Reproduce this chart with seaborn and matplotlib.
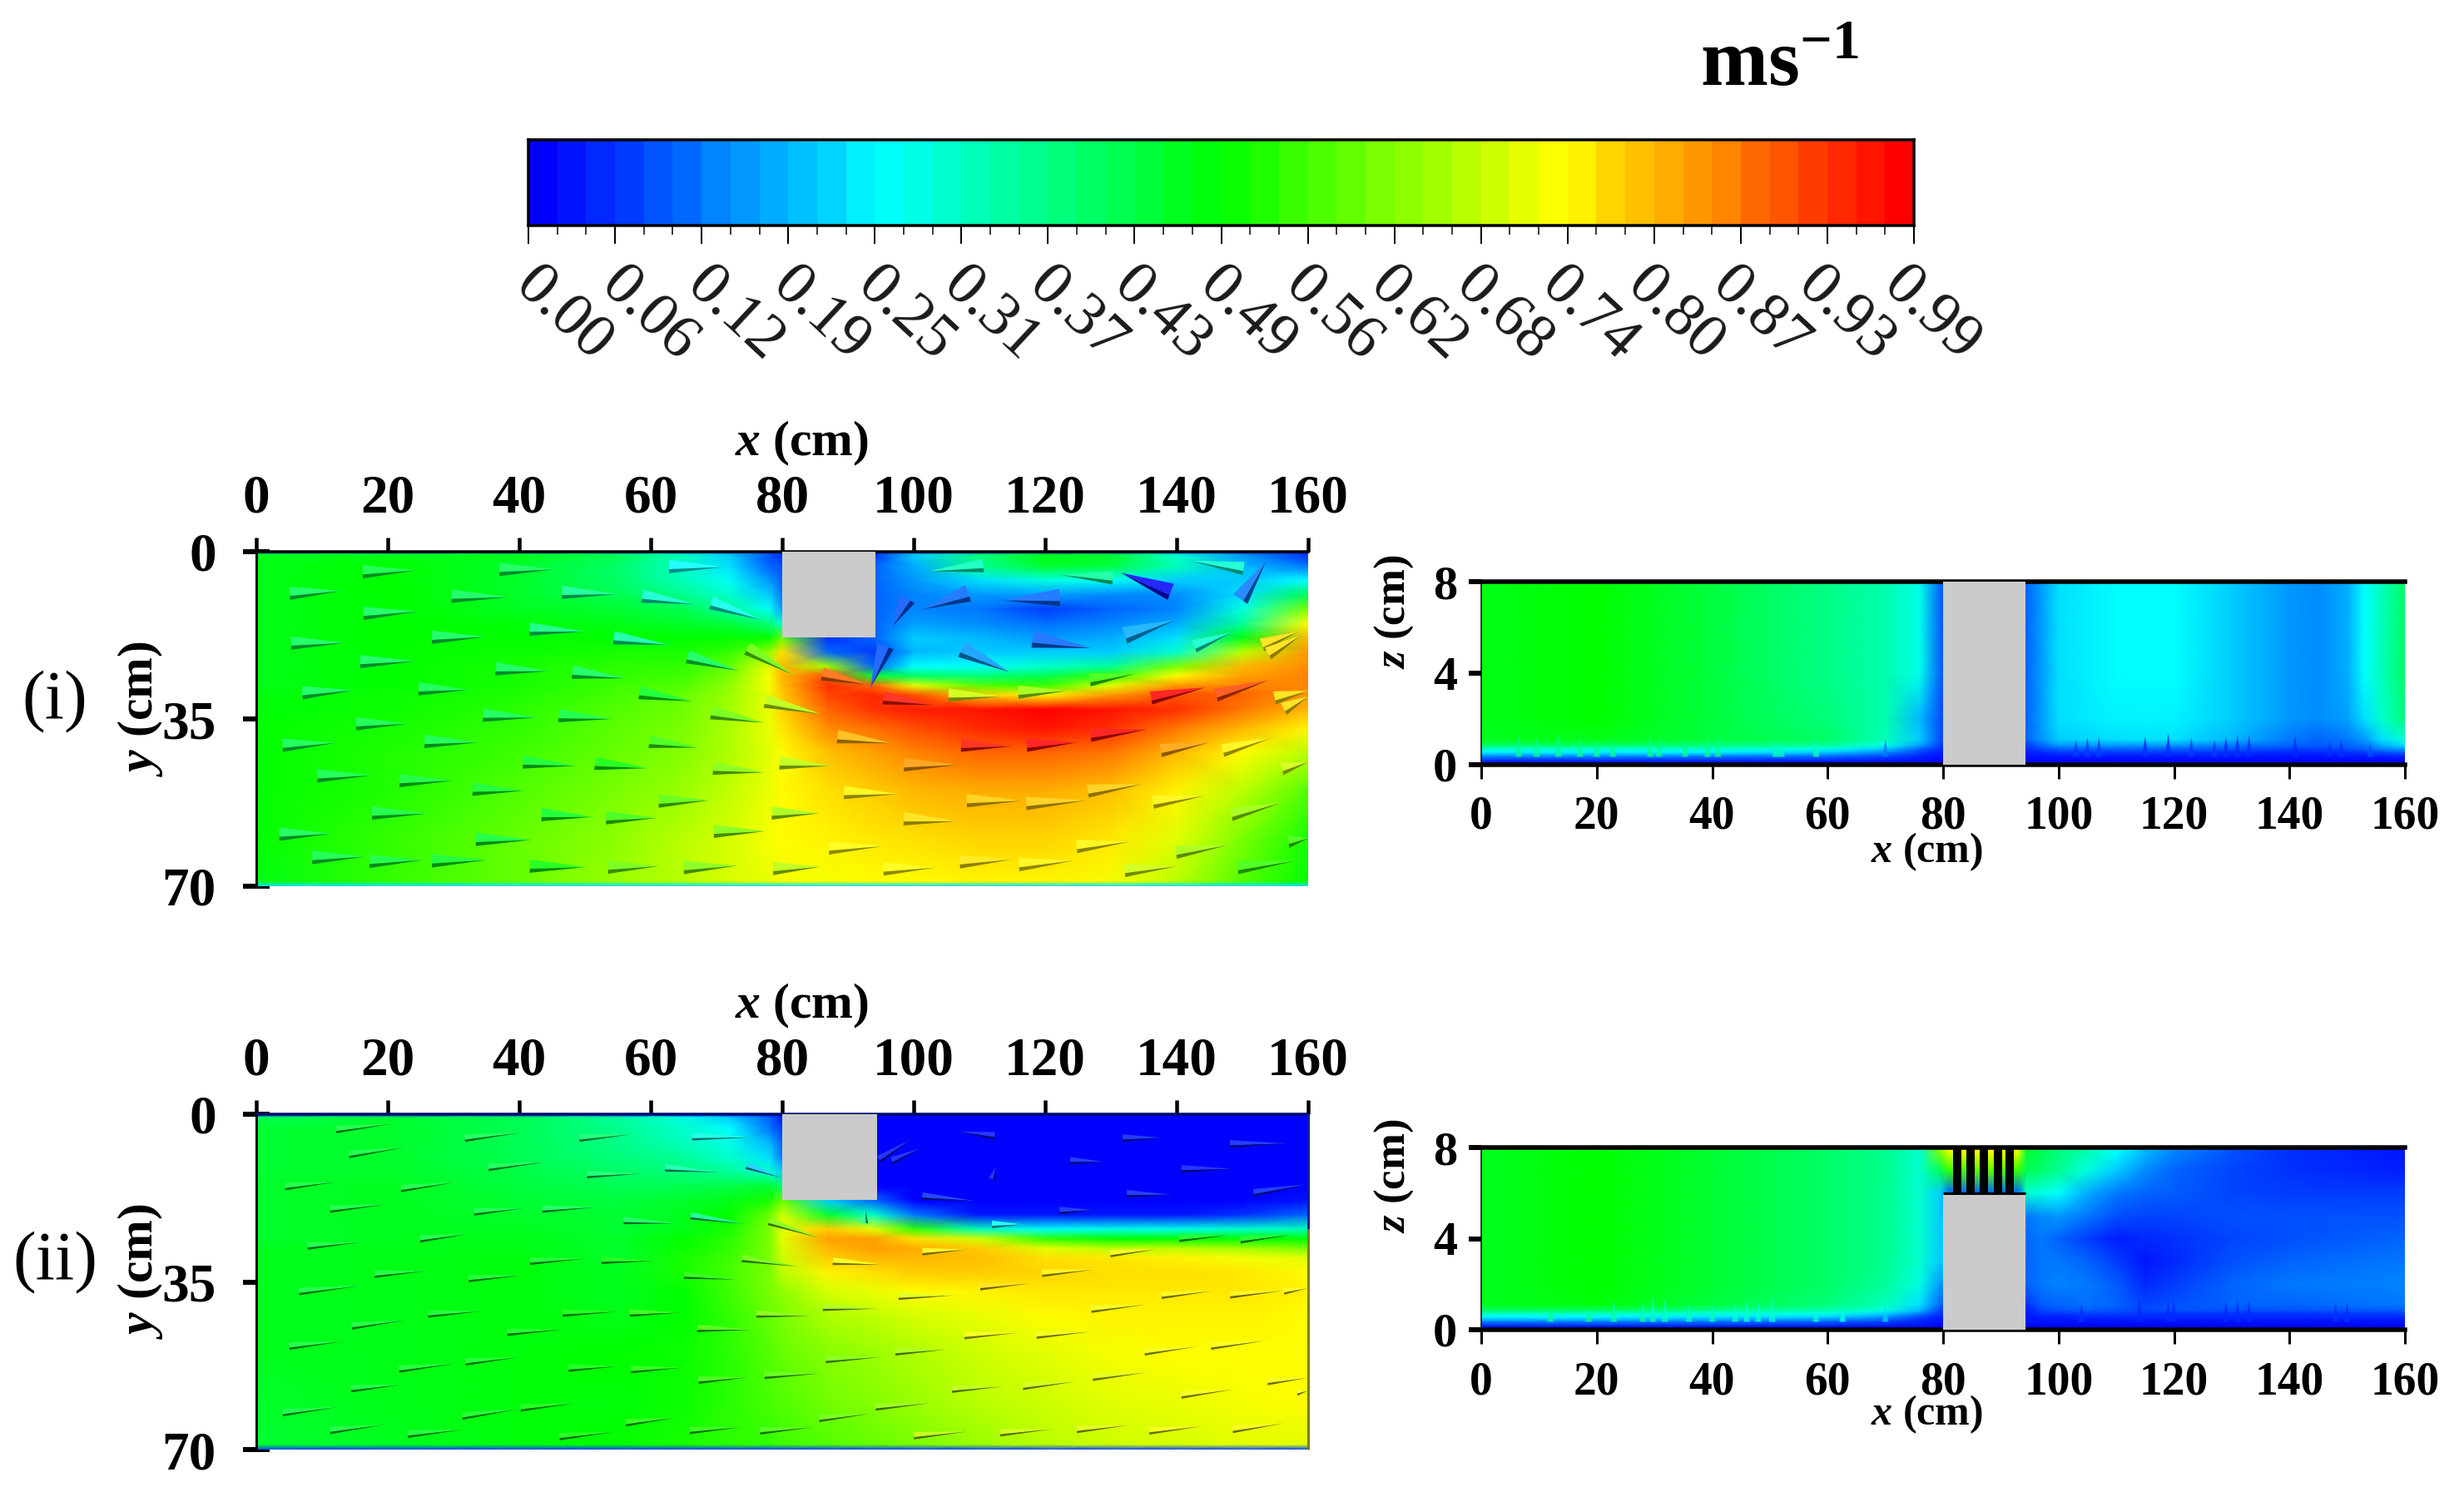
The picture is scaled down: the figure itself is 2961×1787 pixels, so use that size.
import matplotlib
matplotlib.use('Agg')
import matplotlib.pyplot as plt
from matplotlib.colors import LinearSegmentedColormap
from matplotlib.patches import Rectangle
import numpy as np
import seaborn as sns

W, H = 2961, 1787

# colour bar
cbar_levels = [0.00, 0.02, 0.04, 0.06, 0.085, 0.105, 0.13, 0.15, 0.17, 0.19, 0.21, 0.235,
               0.255, 0.275, 0.30, 0.32, 0.34, 0.36, 0.38, 0.405, 0.425, 0.445, 0.47, 0.49,
               0.51, 0.53, 0.555, 0.575, 0.595, 0.62, 0.64, 0.66, 0.68, 0.70, 0.725, 0.745,
               0.765, 0.79, 0.81, 0.83, 0.85, 0.87, 0.895, 0.915, 0.94, 0.96, 0.98, 1.00]
cbar_labels = ['0.00', '0.06', '0.12', '0.19', '0.25', '0.31', '0.37', '0.43', '0.49',
               '0.56', '0.62', '0.68', '0.74', '0.80', '0.87', '0.93', '0.99']

# plan view grid, x and y in cm
plan_x = [0, 20, 40, 55, 65, 72, 78, 80, 87, 94, 100, 110, 120, 130, 140, 150, 160]
plan_y = [0, 0.7, 3, 6, 9, 12, 15, 18, 21, 24, 26, 28, 30, 33, 37, 42, 50, 60, 69, 70]

plan_i = [
    [.10, .10, .10, .10, .10, .08, .06, .05, .05, .05, .05, .05, .05, .05, .05, .05, .03],
    [.48, .48, .48, .42, .32, .20, .08, .05, .05, .05, .20, .38, .48, .46, .30, .15, .05],
    [.48, .50, .46, .40, .30, .22, .10, .08, .10, .10, .17, .36, .46, .44, .32, .18, .12],
    [.48, .50, .46, .40, .32, .26, .15, .10, .10, .10, .15, .22, .28, .26, .20, .20, .25],
    [.48, .50, .46, .42, .36, .30, .20, .12, .10, .10, .13, .15, .16, .14, .14, .22, .42],
    [.48, .50, .47, .45, .42, .35, .26, .15, .10, .10, .13, .12, .06, .10, .13, .28, .62],
    [.48, .50, .49, .48, .46, .44, .38, .30, .10, .10, .16, .14, .11, .13, .17, .35, .75],
    [.48, .50, .50, .50, .50, .50, .50, .60, .05, .10, .20, .18, .15, .17, .22, .48, .82],
    [.48, .50, .51, .52, .52, .55, .64, .78, .10, .06, .18, .20, .20, .20, .30, .68, .85],
    [.48, .50, .52, .54, .55, .60, .72, .82, .65, .10, .25, .26, .30, .35, .62, .82, .86],
    [.48, .50, .52, .55, .56, .62, .74, .82, .92, .45, .40, .38, .42, .55, .75, .84, .87],
    [.48, .50, .52, .56, .58, .64, .74, .81, .95, .90, .72, .58, .55, .72, .85, .87, .87],
    [.49, .51, .53, .57, .60, .65, .73, .80, .93, .96, .92, .80, .76, .85, .92, .90, .85],
    [.49, .51, .54, .58, .61, .66, .73, .79, .90, .95, .97, .98, 1.0, .98, .95, .88, .82],
    [.50, .52, .55, .59, .62, .67, .73, .77, .86, .89, .92, .96, .98, .95, .88, .82, .76],
    [.50, .53, .56, .60, .63, .67, .72, .75, .81, .84, .87, .90, .90, .88, .82, .75, .68],
    [.50, .53, .58, .62, .65, .69, .73, .75, .78, .80, .82, .83, .83, .81, .76, .68, .58],
    [.50, .55, .60, .64, .68, .71, .74, .75, .76, .77, .78, .79, .79, .77, .72, .62, .52],
    [.48, .55, .60, .65, .68, .71, .73, .74, .74, .75, .75, .76, .76, .74, .68, .58, .50],
    [.22, .22, .22, .22, .22, .22, .22, .22, .22, .22, .22, .22, .22, .22, .22, .22, .22],
]

plan_ii = [
    [.02, .02, .02, .02, .02, .02, .02, .02, .02, .02, .00, .00, .00, .00, .00, .00, .00],
    [.42, .45, .42, .35, .28, .20, .10, .03, .00, .00, .00, .00, .00, .00, .00, .00, .00],
    [.45, .46, .42, .36, .30, .25, .12, .06, .00, .00, .00, .00, .00, .00, .00, .00, .00],
    [.45, .46, .42, .37, .32, .27, .18, .10, .00, .00, .00, .00, .00, .00, .00, .00, .00],
    [.45, .46, .42, .38, .35, .30, .22, .12, .00, .00, .00, .00, .00, .00, .00, .00, .00],
    [.45, .46, .43, .40, .38, .35, .30, .20, .00, .00, .00, .00, .00, .00, .00, .00, .00],
    [.46, .47, .44, .42, .42, .43, .45, .40, .00, .00, .00, .00, .00, .00, .00, .00, .00],
    [.46, .47, .45, .44, .46, .48, .52, .60, .20, .10, .00, .00, .00, .00, .00, .00, .02],
    [.46, .47, .46, .45, .47, .50, .60, .70, .45, .30, .12, .02, .02, .02, .02, .05, .10],
    [.46, .47, .47, .45, .48, .52, .62, .72, .80, .72, .55, .32, .26, .27, .27, .30, .32],
    [.46, .47, .48, .46, .50, .54, .62, .72, .84, .84, .78, .70, .55, .50, .50, .50, .50],
    [.47, .48, .48, .46, .51, .55, .62, .71, .82, .84, .83, .80, .72, .68, .68, .66, .62],
    [.47, .48, .49, .46, .52, .56, .62, .70, .80, .82, .82, .81, .78, .77, .76, .74, .72],
    [.47, .48, .49, .47, .52, .57, .62, .68, .76, .78, .80, .80, .79, .78, .78, .77, .75],
    [.47, .48, .49, .47, .50, .56, .62, .64, .71, .73, .75, .76, .77, .77, .77, .77, .76],
    [.47, .48, .49, .48, .50, .55, .60, .62, .67, .69, .71, .73, .75, .76, .76, .76, .75],
    [.47, .48, .49, .50, .51, .54, .58, .60, .63, .65, .67, .70, .72, .74, .75, .75, .75],
    [.46, .48, .49, .49, .51, .54, .57, .58, .61, .63, .65, .68, .70, .72, .73, .74, .75],
    [.45, .47, .49, .50, .52, .54, .55, .56, .58, .60, .62, .65, .68, .70, .71, .72, .72],
    [.06, .06, .06, .06, .06, .06, .06, .06, .06, .06, .06, .06, .06, .06, .06, .06, .06],
]

# cones of the plan views: tail x, tail y, tip x, tip y, speed
cone_i_x0 = [16.2, 37.0, 62.8, 5.1, 29.7, 46.5, 58.7, 69.2, 16.3, 41.6, 26.7, 54.4, 5.3, 74.7, 65.6, 15.8, 36.4,
             48.1, 58.3, 24.7, 7.0, 77.4, 69.2, 34.5, 46.0, 15.2, 59.8, 4.0, 25.6, 40.6, 51.5, 69.5, 79.6, 9.3,
             21.8, 32.9, 61.2, 17.6, 43.4, 53.2, 78.4, 69.6, 3.5, 33.4, 8.5, 17.2, 26.7, 41.6, 53.5, 65.0, 78.6,
             110.6, 130.3, 150.2, 149.7, 139.1, 122.2, 108.3, 99.0, 132.1, 142.7, 118.1, 107.3, 95.7, 86.1, 95.4,
             105.3, 115.9, 126.8, 136.1, 146.0, 153.0, 153.9, 154.9, 156.3, 88.4, 107.2, 117.2, 126.9, 137.6,
             147.0, 156.0, 98.5, 89.4, 108.1, 117.1, 126.5, 136.4, 148.3, 98.5, 87.1, 157.0, 124.8, 139.9, 107.0,
             116.0, 95.4, 132.1, 149.3]
cone_i_y0 = [4.2, 3.7, 3.1, 8.7, 9.3, 8.5, 9.3, 10.7, 12.9, 16.2, 17.9, 18.0, 19.1, 20.3, 22.0, 23.0, 24.5,
             25.2, 29.5, 28.7, 29.5, 31.3, 33.7, 34.2, 34.3, 36.0, 39.7, 40.5, 39.7, 44.0, 44.3, 45.3, 44.2, 46.9,
             47.9, 49.7, 52.2, 54.7, 55.0, 55.7, 54.7, 58.5, 59.1, 60.2, 64.0, 64.8, 64.7, 65.8, 66.0, 66.1, 66.3,
             2.9, 5.5, 3.5, 9.9, 8.4, 9.6, 8.7, 9.9, 17.5, 19.8, 18.3, 20.4, 19.8, 25.6, 30.6,
             30.0, 29.4, 26.8, 30.6, 30.0, 19.5, 21.3, 30.6, 32.9, 38.7, 40.5, 40.5, 38.4, 41.6,
             41.6, 45.4, 44.6, 50.4, 52.1, 52.7, 50.1, 52.4, 55.0, 55.9, 62.0, 60.6, 61.7, 62.9, 64.9,
             65.5, 66.4, 66.7, 66.1]
cone_i_x1 = [24.3, 45.3, 71.1, 12.9, 38.4, 54.9, 66.8, 77.0, 24.6, 49.9, 35.0, 62.7, 13.5, 81.6, 73.4, 24.2, 44.4,
             56.2, 66.4, 32.3, 14.8, 85.9, 77.3, 42.6, 54.1, 23.0, 67.2, 12.1, 33.8, 48.6, 59.5, 77.3, 87.3, 17.6,
             29.9, 40.7, 68.9, 25.9, 51.1, 60.9, 85.7, 77.4, 11.5, 41.9, 16.6, 25.4, 35.1, 50.1, 61.3, 73.1, 85.9,
             102.3, 122.2, 142.1, 153.6, 131.5, 113.6, 101.3, 96.8, 139.7, 148.3, 127.0, 114.6, 93.4, 93.0, 103.0,
             113.2, 123.2, 133.8, 144.4, 154.0, 158.3, 158.9, 160.0, 160.0, 96.7, 114.9, 124.8, 135.4, 145.0,
             154.3, 160.0, 106.8, 97.7, 116.5, 126.4, 134.8, 144.4, 155.9, 106.6, 95.4, 160.0, 133.1, 147.7, 114.9,
             124.5, 103.3, 140.1, 157.9]
cone_i_y1 = [3.9, 3.7, 3.2, 8.2, 9.5, 8.9, 11.0, 14.3, 12.5, 16.7, 17.8, 19.5, 19.1, 25.7, 24.9, 22.9, 25.0,
             26.5, 31.3, 28.9, 29.0, 34.0, 35.8, 34.7, 35.0, 36.0, 41.0, 40.0, 39.9, 44.8, 45.3, 46.2, 44.8, 46.8,
             47.9, 50.0, 52.0, 54.8, 55.5, 55.7, 54.7, 58.5, 59.0, 60.3, 63.8, 64.5, 64.5, 66.0, 65.8, 65.7, 65.9,
             4.1, 4.8, 1.9, 2.0, 4.4, 10.2, 12.1, 15.6, 14.3, 16.9, 20.2, 25.2, 28.5, 27.8, 32.1,
             30.3, 29.1, 25.5, 28.4, 26.9, 16.8, 17.5, 29.1, 30.3, 40.1, 40.7, 39.9, 37.2, 39.9,
             39.0, 44.0, 44.6, 50.7, 52.1, 52.0, 48.6, 51.0, 52.5, 56.4, 61.6, 60.0, 60.6, 61.4, 64.4,
             64.6, 66.1, 65.8, 64.7]
cone_i_speed = [.44, .42, .25, .42, .42, .36, .30, .27, .42, .38, .42, .34, .42, .60, .42, .42, .42,
                .42, .48, .43, .42, .68, .60, .43, .45, .44, .55, .43, .44, .47, .50, .62, .68, .44,
                .46, .47, .58, .45, .48, .55, .66, .62, .43, .46, .44, .46, .47, .50, .60, .62, .68,
                .32, .35, .30, .12, .00, .10, .10, .08, .17, .30, .10, .15, .08, .90, .98,
                .70, .65, .55, 1.0, .93, .78, .78, .78, .78, .82, .98, 1.0, 1.0, .84,
                .76, .70, .85, .76, .80, .80, .80, .76, .65, .78, .75, .55, .76, .66, .77,
                .76, .75, .70, .55]

cone_ii_x0 = [12.1, 14.1, 31.7, 49.1, 66.3, 35.3, 50.3, 62.2, 74.6, 4.4, 22.0, 11.2, 33.1, 43.5, 55.9, 66.1, 78.0,
              7.8, 24.9, 41.6, 52.5, 73.9, 18.0, 32.3, 65.1, 6.5, 26.1, 46.6, 56.8, 76.1, 14.5, 38.2, 67.1, 5.0,
              31.8, 21.7, 47.5, 57.0, 67.3, 77.3, 14.4, 31.3, 40.2, 4.0, 56.2, 11.2, 23.0, 46.1, 65.9, 76.6,
              87.7, 101.3, 129.9, 119.5, 110.1, 97.7, 137.7, 148.1, 156.3, 127.0, 86.2, 107.7, 118.7, 135.1, 145.2,
              97.2, 86.6, 127.2, 105.8, 116.6, 140.7, 153.8, 158.3, 94.2, 85.6, 100.0, 113.1, 124.8, 135.8, 148.5,
              112.3, 131.8, 148.1, 123.8, 140.7, 151.7, 132.4, 101.3, 122.2, 111.9, 92.5, 111.9, 94.7, 96.7, 140.4,
              149.7]
cone_ii_y0 = [3.2, 8.4, 5.0, 5.0, 4.7, 11.1, 12.6, 11.2, 10.7, 15.1, 15.5, 19.8, 20.4, 19.8, 22.2, 21.2, 22.4,
              27.5, 26.0, 30.7, 30.5, 30.1, 33.4, 34.3, 33.6, 37.0, 41.7, 41.5, 41.5, 41.7, 44.2, 45.5, 44.7, 48.4,
              51.7, 53.2, 53.0, 53.3, 55.5, 54.5, 57.3, 63.0, 61.3, 62.3, 64.4, 66.0, 66.8, 67.3, 66.0, 66.1,
              30.7, 28.7, 29.1, 33.2, 36.0, 38.0, 37.8, 37.7, 36.9, 40.7, 40.3, 46.2, 46.1, 49.6, 48.4,
              49.6, 51.2, 54.9, 57.4, 56.8, 58.6, 55.8, 58.0, 61.1, 63.5, 67.1, 66.5, 65.8, 66.1, 65.8,
              4.5, 5.0, 6.2, 9.7, 11.4, 16.4, 16.6, 17.1, 20.1, 23.0, 22.7, 13.5, 9.4, 9.7, 25.9,
              26.2]
cone_ii_x1 = [20.6, 22.6, 40.4, 57.0, 75.6, 44.2, 58.6, 70.5, 80.0, 12.3, 30.3, 19.8, 40.8, 51.7, 63.8, 74.2, 85.6,
              15.9, 32.3, 50.1, 60.6, 82.4, 25.9, 40.4, 73.0, 15.8, 34.3, 55.0, 64.6, 84.3, 22.6, 46.7, 75.4, 13.2,
              40.0, 30.3, 55.0, 64.8, 74.9, 85.8, 22.2, 40.0, 48.5, 12.4, 63.8, 19.4, 31.5, 54.5, 73.9, 84.8,
              95.4, 108.3, 137.1, 127.5, 117.7, 106.3, 145.4, 156.3, 160.0, 135.4, 94.4, 115.9, 126.8, 143.0, 153.3,
              105.0, 95.0, 135.4, 113.6, 124.6, 148.7, 160.0, 160.0, 102.5, 93.4, 108.3, 121.2, 132.8, 144.0, 156.3,
              106.8, 137.8, 157.0, 128.8, 148.7, 160.0, 139.4, 109.3, 127.5, 116.6, 92.7, 112.5, 99.7, 101.0, 148.0,
              157.6]
cone_ii_y1 = [2.0, 6.9, 3.8, 4.2, 4.8, 9.9, 12.4, 12.1, 13.3, 14.1, 14.2, 18.8, 19.6, 19.4, 22.8, 22.9, 25.8,
              26.7, 25.0, 30.1, 30.6, 31.8, 32.7, 33.6, 34.5, 35.8, 41.1, 41.2, 41.4, 42.1, 43.0, 44.9, 45.0, 47.4,
              50.7, 52.0, 52.6, 52.9, 54.9, 54.1, 56.4, 61.5, 60.3, 61.1, 63.3, 64.8, 65.8, 66.3, 65.3, 65.3,
              31.4, 28.2, 28.1, 32.4, 35.3, 37.8, 36.9, 36.8, 36.3, 39.7, 40.6, 45.6, 45.4, 48.5, 47.3,
              49.1, 50.7, 53.9, 56.8, 55.8, 57.4, 55.0, 57.7, 60.3, 62.5, 66.2, 65.7, 64.9, 65.1, 64.5,
              3.6, 4.9, 6.1, 9.9, 11.4, 14.6, 16.8, 18.1, 20.0, 23.0, 20.1, 11.1, 5.2, 7.1, 25.2,
              25.1]
cone_ii_speed = [.45, .45, .43, .40, .28, .43, .40, .33, .20, .45, .45, .45, .44, .42, .42, .36, .62,
                 .45, .45, .47, .50, .60, .46, .47, .52, .45, .47, .50, .53, .62, .46, .49, .56, .45,
                 .48, .47, .50, .52, .55, .58, .46, .48, .50, .45, .52, .46, .47, .50, .53, .56,
                 .74, .76, .74, .76, .78, .72, .76, .76, .75, .74, .66, .74, .74, .74, .74,
                 .66, .62, .72, .68, .70, .74, .74, .74, .64, .60, .68, .70, .72, .74, .74,
                 .02, .03, .03, .03, .02, .03, .03, .04, .03, .25, .35, .02, .02, .02, .48,
                 .48]

# side view grids, x and z in cm
side_i_x = [0, 20, 40, 60, 70, 76, 79.5, 94.5, 100, 110, 120, 130, 140, 145, 150, 153, 156, 160]
side_i_z = [0, .2, .4, .55, .7, .85, 1.1, 2, 4, 6, 7.8, 8]
side_i = [
    [.00, .00, .00, .00, .00, .00, .00, .00, .00, .00, .00, .00, .00, .00, .00, .00, .00, .00],
    [.05, .05, .05, .04, .03, .02, .01, .01, .01, .01, .01, .01, .01, .01, .01, .01, .01, .01],
    [.15, .15, .14, .12, .08, .04, .02, .02, .03, .03, .03, .03, .02, .02, .03, .03, .04, .04],
    [.24, .24, .24, .20, .14, .07, .03, .03, .06, .06, .06, .05, .04, .04, .05, .06, .08, .10],
    [.30, .30, .30, .27, .20, .10, .05, .05, .10, .10, .10, .09, .07, .07, .08, .10, .13, .16],
    [.40, .40, .38, .35, .28, .16, .06, .06, .15, .15, .15, .12, .10, .09, .10, .12, .17, .22],
    [.47, .48, .44, .40, .32, .20, .08, .10, .20, .22, .22, .18, .12, .10, .12, .15, .22, .30],
    [.48, .50, .44, .38, .33, .18, .08, .10, .22, .24, .24, .20, .15, .14, .16, .22, .30, .38],
    [.48, .50, .44, .37, .33, .27, .10, .10, .22, .25, .25, .20, .15, .14, .17, .25, .32, .40],
    [.48, .50, .44, .37, .33, .27, .10, .10, .22, .25, .25, .20, .15, .14, .17, .25, .32, .40],
    [.48, .50, .44, .37, .33, .27, .10, .10, .22, .25, .25, .20, .15, .14, .17, .25, .32, .40],
    [.48, .50, .44, .37, .33, .27, .10, .10, .22, .25, .25, .20, .15, .14, .17, .25, .32, .40],
]

side_ii_x = [0, 20, 40, 60, 70, 76, 79.5, 81, 87, 93, 94.5, 97, 100, 105, 110, 115, 120, 130, 140, 160]
side_ii_z = [0, .2, .4, .55, .7, .85, 1.1, 2, 3, 4, 5, 6, 7, 7.8, 8]
side_ii = [
    [.00, .00, .00, .00, .00, .00, .00, .00, .00, .00, .00, .00, .00, .00, .00, .00, .00, .00, .00, .00],
    [.05, .05, .05, .04, .03, .02, .01, .01, .01, .01, .01, .01, .01, .01, .01, .01, .01, .01, .01, .01],
    [.15, .15, .14, .12, .08, .04, .02, .02, .02, .02, .02, .02, .02, .02, .02, .02, .02, .02, .02, .02],
    [.24, .24, .22, .20, .14, .07, .03, .03, .03, .03, .02, .03, .03, .04, .04, .04, .04, .04, .04, .04],
    [.30, .30, .28, .27, .20, .12, .05, .05, .05, .05, .03, .05, .05, .06, .06, .05, .05, .05, .05, .06],
    [.40, .40, .36, .33, .28, .18, .06, .06, .06, .06, .03, .07, .08, .09, .08, .07, .08, .08, .08, .09],
    [.47, .49, .44, .38, .32, .22, .10, .10, .10, .10, .05, .09, .10, .11, .10, .07, .08, .10, .10, .12],
    [.47, .50, .45, .40, .35, .28, .15, .15, .15, .15, .10, .12, .13, .12, .09, .04, .06, .10, .12, .13],
    [.47, .50, .45, .40, .36, .30, .20, .20, .20, .20, .10, .12, .12, .10, .06, .02, .04, .08, .10, .12],
    [.47, .50, .45, .40, .36, .30, .20, .20, .20, .20, .10, .12, .10, .06, .03, .04, .05, .07, .08, .10],
    [.47, .50, .45, .40, .36, .30, .20, .20, .20, .20, .12, .14, .15, .12, .08, .07, .07, .08, .08, .08],
    [.47, .50, .45, .40, .36, .30, .20, .10, .10, .10, .30, .28, .25, .17, .12, .10, .09, .07, .06, .06],
    [.47, .50, .45, .40, .36, .30, .42, .55, .60, .55, .42, .40, .36, .28, .20, .14, .10, .07, .05, .03],
    [.47, .50, .45, .40, .36, .30, .62, .72, .75, .72, .45, .42, .38, .33, .25, .18, .13, .08, .05, .02],
    [.47, .50, .45, .40, .36, .30, .62, .72, .75, .72, .45, .42, .38, .33, .25, .18, .13, .08, .05, .02],
]

# near-bed streaks of the side views: x, top z, speed
streak_i_x = [6.5, 9.6, 13.4, 17.1, 20, 22.8, 29.3, 30.8, 35.3, 39.2, 41, 51, 52, 58, 70,
              103, 105, 107, 115, 119, 123, 127, 129, 131, 133, 141, 147, 149, 154]
streak_i_z = [1.3, 1.2, 1.4, 1.2, 1.1, 1.1, 1.25, 1.2, 1.2, 1.25, 1.25, 1.1, 1.1, 1.25, 1.1,
              1.1, 1.2, 1.2, 1.25, 1.4, 1.2, 1.1, 1.25, 1.3, 1.3, 1.25, 1.1, 1.1, 1.0]
streak_i_v = [.36, .36, .36, .36, .36, .36, .36, .36, .36, .36, .36, .32, .32, .32, .12,
              .06, .06, .06, .05, .05, .06, .06, .05, .05, .05, .04, .05, .05, .08]
streak_ii_x = [12, 18.6, 23, 28, 29.7, 31.8, 36, 40, 44, 46, 48, 50.4, 58, 62.6, 70,
               104, 114, 119, 120, 129, 131, 133, 148, 150]
streak_ii_z = [1.0, 1.0, 1.3, 1.3, 1.45, 1.35, 1.2, 1.1, 1.2, 1.3, 1.3, 1.45, 1.0, 1.1, 1.0,
               1.1, 1.4, 1.3, 1.3, 1.3, 1.3, 1.3, 1.2, 1.2]
streak_ii_v = [.36, .36, .34, .34, .32, .32, .32, .32, .30, .30, .30, .30, .30, .28, .20,
               .05, .04, .04, .04, .04, .04, .04, .05, .05]

# gap bars above the submerged block in side view (ii)
bar_x = [82.5, 84.8, 87.0, 89.5, 91.6]

plan_ticks = [0, 20, 40, 60, 80, 100, 120, 140, 160]

sns.set_theme(style='ticks')
plt.rcParams['font.family'] = ['Liberation Serif', 'DejaVu Serif']
plt.rcParams['text.color'] = 'black'
plt.rcParams['mathtext.fontset'] = 'custom'
plt.rcParams['mathtext.rm'] = 'Liberation Serif:bold'
plt.rcParams['mathtext.bf'] = 'Liberation Serif:bold'
plt.rcParams['mathtext.bfit'] = 'Liberation Serif:italic:bold'
plt.rcParams['mathtext.it'] = 'Liberation Serif:italic:bold'

rainbow = LinearSegmentedColormap.from_list(
    'flow', ['#0000ff', '#00ffff', '#00ff00', '#ffff00', '#ff0000'], N=256)
GREY = '#cbcbcb'
PLAN_LEFT, PLAN_RIGHT = 308, 1572

fig = plt.figure(figsize=(W / 100, H / 100), dpi=100, facecolor='white')


def pt(px):
    return px * 0.72


def axes_px(left, top, right, bottom):
    return fig.add_axes([left / W, 1 - bottom / H, (right - left) / W, (bottom - top) / H])


def text_px(x, y, s, **kw):
    kw.setdefault('ha', 'center')
    kw.setdefault('va', 'center')
    fig.text(x / W, 1 - y / H, s, **kw)


def draw_cones(ax, x0, y0, x1, y1, speed, half_px, sx, sy, dark_share, dark_mix, fat_slow):
    for a, b, c, d, v in zip(x0, y0, x1, y1, speed):
        dx, dy = (c - a) * sx, (d - b) * sy
        norm = np.hypot(dx, dy)
        nx, ny = -dy / norm, dx / norm
        if ny > 0:
            nx, ny = -nx, -ny
        half = half_px * 1.3 if (fat_slow and v < .2) else half_px
        top = (a + nx * half / sx, b + ny * half / sy)
        bot = (a - nx * half / sx, b - ny * half / sy)
        cut = (top[0] + (bot[0] - top[0]) * (1 - dark_share), top[1] + (bot[1] - top[1]) * (1 - dark_share))
        col = np.array(rainbow(v)[:3])
        light = col + (1 - col) * 0.15
        dark = col * dark_mix
        ax.fill([top[0], c, cut[0]], [top[1], d, cut[1]], color=light, lw=0, zorder=4)
        ax.fill([cut[0], c, bot[0]], [cut[1], d, bot[1]], color=dark, lw=0, zorder=4)


def plan_view(top, bottom, field, block_right, x0, y0, x1, y1, speed, half_px, dark_share, dark_mix, top_color):
    ax = axes_px(PLAN_LEFT, top, PLAN_RIGHT, bottom)
    ax.pcolormesh(plan_x, plan_y, np.array(field), cmap=rainbow, vmin=0, vmax=1, shading='gouraud')
    ax.add_patch(Rectangle((80, 0), block_right - 80, 17.9, color=GREY, lw=0, zorder=3))
    sx, sy = (PLAN_RIGHT - PLAN_LEFT) / 160, (bottom - top) / 70
    draw_cones(ax, x0, y0, x1, y1, speed, half_px, sx, sy, dark_share, dark_mix, half_px > 5)
    ax.set_xlim(0, 160)
    ax.set_ylim(70, 0)
    ax.xaxis.tick_top()
    ax.set_xticks(plan_ticks)
    ax.set_yticks([0, 35, 70])
    ax.tick_params(axis='x', length=pt(17), width=pt(4.5), color='black', pad=pt(16),
                   labelsize=47, labelcolor='black')
    ax.tick_params(axis='y', length=pt(32), width=pt(6), color='black', direction='inout', pad=pt(32),
                   labelsize=47, labelcolor='black')
    for lab in ax.get_xticklabels() + ax.get_yticklabels():
        lab.set_fontweight('bold')
    for side in ['right', 'bottom']:
        ax.spines[side].set_visible(False)
    ax.spines['left'].set_linewidth(pt(3))
    ax.spines['left'].set_color('black')
    ax.spines['top'].set_linewidth(pt(3.5))
    ax.spines['top'].set_color(top_color)
    return ax


def side_view(top, bottom, xs, zs, field, block_top, streak_x, streak_z, streak_v):
    ax = axes_px(1780, top, 2890, bottom)
    ax.pcolormesh(xs, zs, np.array(field), cmap=rainbow, vmin=0, vmax=1, shading='gouraud')
    for x, z, v in zip(streak_x, streak_z, streak_v):
        ax.fill([x - 0.55, x, x + 0.55], [0.35, z, 0.35], color=rainbow(v), alpha=0.8, lw=0, zorder=2)
    ax.add_patch(Rectangle((80, 0), 14.2, block_top, color=GREY, lw=0, zorder=3))
    ax.set_xlim(0, 160)
    ax.set_ylim(0, 8)
    ax.set_xticks(plan_ticks)
    ax.set_yticks([0, 4, 8])
    ax.tick_params(axis='x', length=pt(17), width=pt(3), color='black', pad=pt(20),
                   labelsize=40, labelcolor='black')
    ax.tick_params(axis='y', length=pt(15), width=pt(6), color='black', pad=pt(14),
                   labelsize=42, labelcolor='black')
    for lab in ax.get_xticklabels() + ax.get_yticklabels():
        lab.set_fontweight('bold')
    ax.spines['right'].set_visible(False)
    ax.spines['left'].set_linewidth(pt(1.5))
    ax.spines['left'].set_color('black')
    for side in ['top', 'bottom']:
        ax.spines[side].set_linewidth(pt(5.5))
        ax.spines[side].set_color('black')
    return ax


# colour bar
ax_cb = axes_px(635, 168, 2300, 271)
sns.heatmap(np.array([cbar_levels]), ax=ax_cb, cmap=rainbow, vmin=0, vmax=1, cbar=False,
            xticklabels=False, yticklabels=False)
ax_cb.set_xticks(np.arange(len(cbar_labels)) * 3)
ax_cb.set_xticklabels([])
ax_cb.set_xticks(np.arange(len(cbar_levels) + 1), minor=True)
ax_cb.set_yticks([])
ax_cb.tick_params(axis='x', which='major', length=pt(22), width=pt(2), color='black', bottom=True)
ax_cb.tick_params(axis='x', which='minor', length=pt(11), width=pt(1.5), color='black', bottom=True)
for side in ax_cb.spines.values():
    side.set_visible(True)
    side.set_linewidth(pt(3.5))
    side.set_color('black')
for i, lab in enumerate(cbar_labels):
    text_px(628 + i * 102.7, 334, lab, rotation=-43, rotation_mode='anchor', ha='left', va='center', fontsize=54,
            color='#1a1a1a')
text_px(2138, 102, r'$\mathbf{ms^{-1}}$', fontsize=70, va='baseline')

# plan views
plan_view(663, 1065, plan_i, 94.2, cone_i_x0, cone_i_y0, cone_i_x1, cone_i_y1, cone_i_speed, 8, 0.3, 0.55, 'black')
ax_p2 = plan_view(1339, 1742, plan_ii, 94.4, cone_ii_x0, cone_ii_y0, cone_ii_x1, cone_ii_y1, cone_ii_speed,
                  4.5, 0.3, 0.42, '#000c70')
ax_p2.vlines(160, 24, 70, color='#7d7d10', lw=pt(3), zorder=5, clip_on=False)
ax_p2.vlines(160, 0, 24, color='#10208a', lw=pt(3), zorder=5, clip_on=False)

# side views
side_view(699, 919, side_i_x, side_i_z, side_i, 8, streak_i_x, streak_i_z, streak_i_v)
ax_s2 = side_view(1379, 1598, side_ii_x, side_ii_z, side_ii, 6, streak_ii_x, streak_ii_z, streak_ii_v)
ax_s2.vlines(bar_x, 6, 8, color='black', lw=pt(10), zorder=4)
ax_s2.hlines(6, 80, 94.2, color='black', lw=pt(3), zorder=4)

# axis titles
for y in [533, 1209]:
    text_px(963, y, r'$\mathbfit{x}$ (cm)', fontsize=43, fontweight='bold')
for y in [852, 1528]:
    text_px(168, y, r'$\mathbfit{y}$ (cm)', fontsize=43, fontweight='bold', rotation=90)
for y in [1024, 1700]:
    text_px(2315, y, r'$\mathbfit{x}$ (cm)', fontsize=36, fontweight='bold')
for y in [735, 1413]:
    text_px(1675, y, r'$\mathbfit{z}$ (cm)', fontsize=38, fontweight='bold', rotation=90)
text_px(66, 844, '(i)', fontsize=60)
text_px(66, 1518, '(ii)', fontsize=60)

fig.savefig('out.png', dpi=100)
